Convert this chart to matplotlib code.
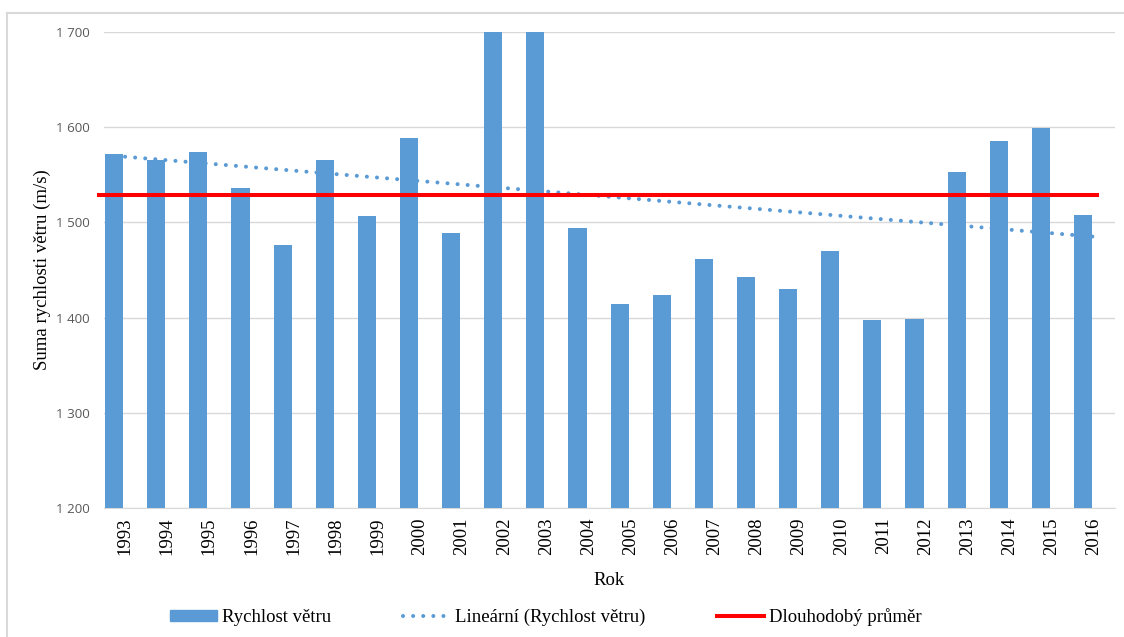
import matplotlib.pyplot as plt
from matplotlib.lines import Line2D
from matplotlib.patches import Patch

# data
roky = list(range(1993, 2017))
rychlost = [1572, 1566, 1574, 1536, 1476, 1566, 1507, 1589, 1489, 1810, 1808, 1494,
            1414, 1424, 1462, 1443, 1430, 1470, 1398, 1399, 1553, 1585, 1599, 1508]
trend = [1569, 1485]  # linearni trend, zacatek 1993 a konec 2016
prumer = 1529
y_ticks = [1200, 1300, 1400, 1500, 1600, 1700]
y_labels = ['1 200', '1 300', '1 400', '1 500', '1 600', '1 700']

modra = '#5b9bd5'
serif = 'Liberation Serif'
tecky = (0, (0.01, 2.5))

fig = plt.figure(figsize=(11.24, 6.37), dpi=100)
ax = fig.add_axes([104/1124, 1 - 508/637, 1011/1124, 476/637])

x = list(range(len(roky)))
ax.bar([i - 0.26 for i in x], rychlost, width=0.43, color=modra, zorder=3)

ax.plot([x[0], x[-1]], trend, color=modra, lw=2.9, linestyle=tecky,
        dash_capstyle='round', zorder=2)
ax.plot([-0.665, 23.13], [prumer, prumer], color='#ff0000', lw=2.9,
        solid_capstyle='butt', clip_on=False, zorder=4)

ax.set_xlim(-0.5, 23.5)
ax.set_ylim(1200, 1700)
ax.set_yticks(y_ticks)
ax.set_yticklabels(y_labels, fontfamily='Open Sans', fontsize=9.6, color='#595959')
ax.set_xticks(x)
ax.set_xticklabels([str(r) for r in roky], rotation=90, fontfamily=serif, fontsize=13.5)
ax.tick_params(axis='both', length=0)
ax.tick_params(axis='y', pad=10)
ax.tick_params(axis='x', pad=7)
ax.grid(axis='y', color='#d9d9d9', lw=1, zorder=0)
ax.set_axisbelow(True)
for s in ['left', 'right', 'top']:
    ax.spines[s].set_visible(False)
ax.spines['bottom'].set_color('#d9d9d9')

ax.set_ylabel('Suma rychlosti větru (m/s)', fontfamily=serif, fontsize=13.5)
ax.yaxis.set_label_coords(-0.052, 0.5)
ax.set_xlabel('Rok', fontfamily=serif, fontsize=13.5)
ax.xaxis.set_label_coords(0.5, -0.134)

handles = [Patch(color=modra),
           Line2D([], [], color=modra, lw=2.9, linestyle=tecky, dash_capstyle='round'),
           Line2D([], [], color='#ff0000', lw=2.9)]
fig.legend(handles, ['Rychlost větru', 'Lineární (Rychlost větru)', 'Dlouhodobý průměr'],
           loc='center', bbox_to_anchor=(546/1124, 1 - 617/637), ncol=3, frameon=False,
           handlelength=2.5, handleheight=0.55, handletextpad=0.3, columnspacing=3.8,
           prop={'family': serif, 'size': 13.5})

# ramecek kolem grafu
fig.add_artist(Line2D([7/1124, 7/1124], [0, 1 - 13/637], color='#d9d9d9', lw=1.5))
fig.add_artist(Line2D([7/1124, 1], [1 - 13/637, 1 - 13/637], color='#d9d9d9', lw=1.5))

fig.savefig('out.png', dpi=100)
